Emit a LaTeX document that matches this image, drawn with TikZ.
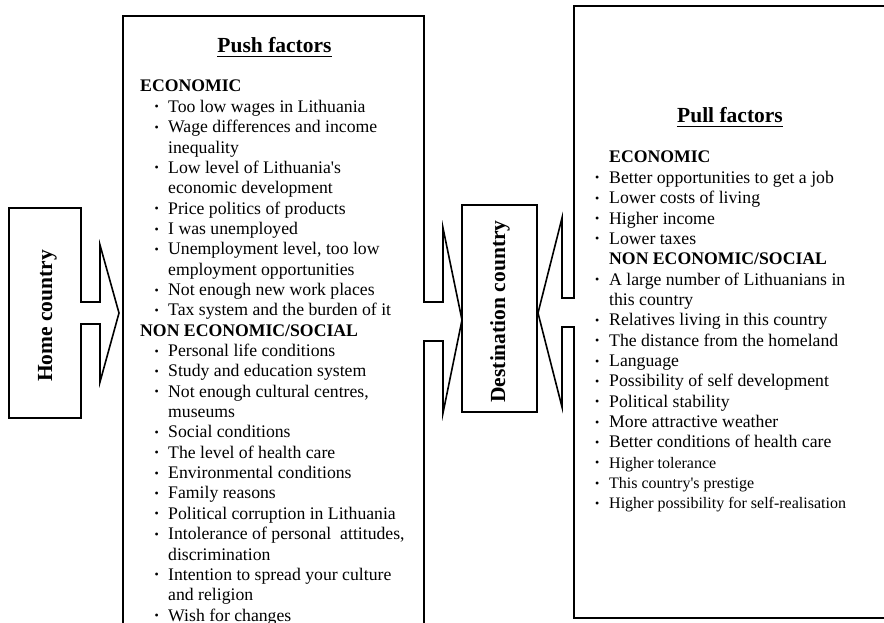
\documentclass[tikz,border=0pt]{standalone}
\usepackage{fontspec}
\setmainfont{Liberation Serif}
\newcommand\smallbul{\raisebox{1.4pt}{\fontsize{12}{12}\selectfont\textbullet}}
\newcommand\pushitem[1]{\hspace*{14.5pt}\makebox[13.5pt][l]{\smallbul}#1}
\newcommand\pushcont[1]{\hspace*{28pt}#1}
\newcommand\pullitem[1]{\makebox[14pt][l]{\smallbul}#1}
\newcommand\pullcont[1]{\hspace*{14pt}#1}
\newcommand\bodyfont{\fontsize{17.7}{20.35}\selectfont}
\newcommand\titlefont{\bfseries\fontsize{21.5}{25}\selectfont}
\begin{document}
\begin{tikzpicture}[x=1pt,y=-1pt,
  outline/.style={draw=black, line width=1.6pt, line join=miter, miter limit=20},
  title/.style={font=\titlefont, inner sep=0pt, anchor=base},
  list/.style={inner sep=0pt, anchor=base west},
  uline/.style={line width=1.8pt}]
\useasboundingbox (0,0) rectangle (884,623);
\begin{scope}
\clip (0,0) rectangle (884,623);
% home country arrow
\draw[outline] (9,208) -- (81,208) -- (81,302) -- (100,302) -- (100,245) -- (119,313)
  -- (100,382) -- (100,324) -- (81,324) -- (81,418) -- (9,418) -- cycle;
% push factors box with arrow to destination
\draw[outline] (123,640) -- (123,16) -- (424,16) -- (424,302) -- (443,302) -- (443,228)
  -- (462,320) -- (443,413) -- (443,341) -- (424,341) -- (424,640);
% destination box
\draw[outline] (462,205) rectangle (537,412);
% pull factors box with arrow to destination
\draw[outline] (900,6) -- (574,6) -- (574,298) -- (562,298) -- (562,218) -- (538,313)
  -- (562,407) -- (562,327) -- (574,327) -- (574,618) -- (900,618);
\end{scope}
% labels
\node[title, rotate=90] (home) at (52,316) {Home country};
\node[title, rotate=90] (dest) at (505,311.5) {Destination country};
\node[title] (pushtitle) at (274.5,53) {Push factors};
\draw[uline] ([yshift=-3.5pt]pushtitle.base west) -- ([yshift=-3.5pt]pushtitle.base east);
\node[title] (pulltitle) at (730,123) {Pull factors};
\draw[uline] ([yshift=-3.5pt]pulltitle.base west) -- ([yshift=-3.5pt]pulltitle.base east);
\node[list] (pushlist) at (140,92) {\begin{minipage}[t]{300pt}\bodyfont\raggedright
\textbf{ECONOMIC}\\
\pushitem{Too low wages in Lithuania}\\
\pushitem{Wage differences and income}\\
\pushcont{inequality}\\
\pushitem{Low level of Lithuania\textquotesingle s}\\
\pushcont{economic development}\\
\pushitem{Price politics of products}\\
\pushitem{I was unemployed}\\
\pushitem{Unemployment level, too low}\\
\pushcont{employment opportunities}\\
\pushitem{Not enough new work places}\\
\pushitem{Tax system and the burden of it}\\
\textbf{NON ECONOMIC/SOCIAL}\\
\pushitem{Personal life conditions}\\
\pushitem{Study and education system}\\
\pushitem{Not enough cultural centres,}\\
\pushcont{museums}\\
\pushitem{Social conditions}\\
\pushitem{The level of health care}\\
\pushitem{Environmental conditions}\\
\pushitem{Family reasons}\\
\pushitem{Political corruption in Lithuania}\\
\pushitem{Intolerance of personal\ \ attitudes,}\\
\pushcont{discrimination}\\
\pushitem{Intention to spread your culture}\\
\pushcont{and religion}\\
\pushitem{Wish for changes}
\end{minipage}};
\node[list] (pulllist) at (595,163) {\begin{minipage}[t]{285pt}\bodyfont\raggedright
\pullcont{\textbf{ECONOMIC}}\\
\pullitem{Better opportunities to get a job}\\
\pullitem{Lower costs of living}\\
\pullitem{Higher income}\\
\pullitem{Lower taxes}\\
\pullcont{\textbf{NON ECONOMIC/SOCIAL}}\\
\pullitem{A large number of Lithuanians in}\\
\pullcont{this country}\\
\pullitem{Relatives living in this country}\\
\pullitem{The distance from the homeland}\\
\pullitem{Language}\\
\pullitem{Possibility of self development}\\
\pullitem{Political stability}\\
\pullitem{More attractive weather}\\
\pullitem{Better conditions of health care}\\
\pullitem{\fontsize{16}{20.35}\selectfont Higher tolerance}\\
\pullitem{\fontsize{16}{20.35}\selectfont This country\textquotesingle s prestige}\\
\pullitem{\fontsize{16}{20.35}\selectfont Higher possibility for self-realisation}
\end{minipage}};
\end{tikzpicture}
\end{document}
